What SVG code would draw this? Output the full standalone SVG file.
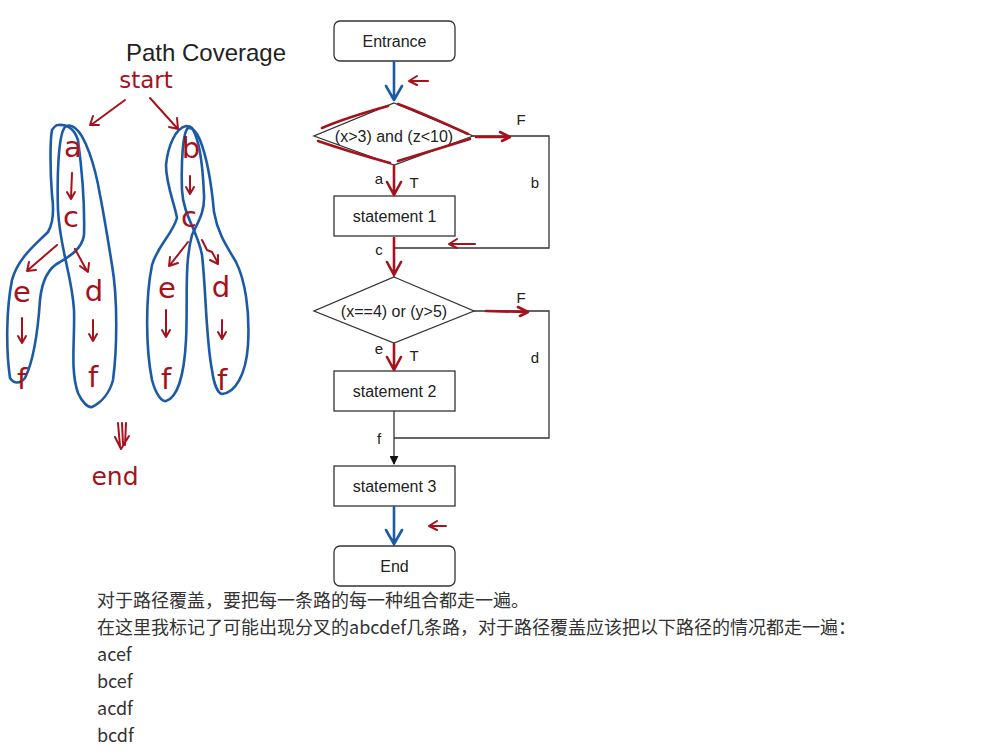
<svg xmlns="http://www.w3.org/2000/svg" width="994" height="756" viewBox="0 0 994 756">
<defs>
<style>
.box{fill:#fff;stroke:#333;stroke-width:1.3}
.lbl{font-family:"Liberation Sans",Arial,sans-serif;font-size:16px;fill:#222;text-anchor:middle}
.sm{font-family:"Liberation Sans",Arial,sans-serif;font-size:15px;fill:#222;text-anchor:middle}
.conn{fill:none;stroke:#333;stroke-width:1.3}
.red{fill:none;stroke:#a5121c;stroke-width:2.6;stroke-linecap:round;stroke-linejoin:round}
.redt{fill:none;stroke:#a5121c;stroke-width:2;stroke-linecap:round;stroke-linejoin:round}
.blue{fill:none;stroke:#1b5aa6;stroke-width:2.6;stroke-linecap:round;stroke-linejoin:round}
.hand{font-family:"DejaVu Sans","Liberation Sans",sans-serif;font-size:29px;fill:#a5121c;text-anchor:middle}
.zh{font-family:"Noto Sans CJK SC","Noto Sans",sans-serif;font-size:18px;fill:#333}
</style>
<marker id="blk" viewBox="0 0 10 10" refX="9" refY="5" markerWidth="9" markerHeight="9" markerUnits="userSpaceOnUse" orient="auto"><path d="M0,0 L10,5 L0,10 Z" fill="#111"/></marker>
</defs>
<rect width="994" height="756" fill="#fff"/>

<text x="206" y="61" font-family="Liberation Sans,Arial,sans-serif" font-size="24" fill="#222" text-anchor="middle">Path Coverage</text>

<g id="connectors">
<path class="conn" d="M394,61 V101"/>
<path class="conn" d="M394,165 V196"/>
<path class="conn" d="M473,136 H549 V248 H394"/>
<path class="conn" d="M394,237 V277"/>
<path class="conn" d="M394,343 V371"/>
<path class="conn" d="M474,311 H549 V438 H394"/>
<path class="conn" d="M394,411 V464" marker-end="url(#blk)"/>
<path class="conn" d="M394,506 V546"/>
<text class="sm" x="521" y="125">F</text>
<text class="sm" x="535" y="188">b</text>
<text class="sm" x="379" y="184">a</text>
<text class="sm" x="414" y="188">T</text>
<text class="sm" x="379" y="255">c</text>
<text class="sm" x="521" y="303">F</text>
<text class="sm" x="535" y="363">d</text>
<text class="sm" x="379" y="354">e</text>
<text class="sm" x="414" y="361">T</text>
<text class="sm" x="379" y="444">f</text>
</g>

<g id="entrance"><rect class="box" x="334" y="21" width="121" height="40" rx="6"/><text class="lbl" x="394.5" y="47">Entrance</text></g>
<g id="decision1"><path class="box" d="M394,103 L473,136 L394,165 L314,136 Z"/><text class="lbl" x="394" y="142">(x&gt;3) and (z&lt;10)</text></g>
<g id="statement1"><rect class="box" x="334" y="196" width="121" height="40"/><text class="lbl" x="394.5" y="222">statement 1</text></g>
<g id="decision2"><path class="box" d="M394,277 L474,311 L394,343 L314,311 Z"/><text class="lbl" x="394" y="317">(x==4) or (y&gt;5)</text></g>
<g id="statement2"><rect class="box" x="334" y="371" width="121" height="40"/><text class="lbl" x="394.5" y="397">statement 2</text></g>
<g id="statement3"><rect class="box" x="334" y="466" width="121" height="40"/><text class="lbl" x="394.5" y="492">statement 3</text></g>
<g id="end"><rect class="box" x="334" y="546" width="121" height="40" rx="6"/><text class="lbl" x="394.5" y="572">End</text></g>

<g id="annotations-flow">
<path class="blue" d="M394,62 V99 M386,86 L394,100 L402,86"/>
<path class="blue" d="M394,507 V543 M386,530 L394,544 L402,530"/>
<path class="redt" d="M428,81 H411 M417,76 L409,81 L417,85"/>
<path class="redt" d="M475,244 H450 M457,239 L449,244 L457,248"/>
<path class="redt" d="M446,526 H431 M437,521 L429,526 L437,530"/>
<path class="red" d="M322,128 Q345,118 388,106 M398,104 Q420,112 468,134 M318,141 Q350,152 390,163 M398,161 Q440,148 470,139"/>
<path class="red" d="M476,137 H509 M500,132 L510,137 L502,141"/>
<path class="red" d="M394,166 V194 M387,182 L394,195 L401,182"/>
<path class="red" d="M394,238 V275 M387,262 L394,275 L401,262"/>
<path class="red" d="M486,311 L527,312 M518,307 L528,312 L520,316"/>
<path class="red" d="M394,344 V369 M387,357 L394,370 L401,357"/>
</g>

<g id="annotations-hand">
<path class="blue" d="M58,125 C66,124 74,128 78,140 C82,170 85,200 84,235 C82,248 72,255 60,262 C48,268 42,280 40,300 C38,330 34,360 25,378 C20,384 14,384 10,378 C6,350 6,310 12,280 C18,258 35,245 48,232 C54,222 54,210 52,195 C50,170 50,140 52,130 C54,127 56,125 58,125 Z"/>
<path class="blue" d="M65,127 C58,135 57,180 58,210 C60,250 72,275 74,310 C75,340 70,370 78,393 C82,402 88,408 92,407 C102,402 110,392 113,380 C117,350 118,300 112,265 C108,240 104,215 100,195 C95,165 85,135 75,128 C71,125 67,125 65,127 Z"/>
<path class="blue" d="M186,126 C176,128 168,145 166,165 C166,185 175,205 177,218 C172,235 158,245 152,265 C145,300 146,350 152,380 C156,395 162,402 166,401 C176,398 184,380 186,340 C188,300 184,265 192,235 C198,222 205,212 204,195 C203,170 200,140 192,128 C190,126 188,126 186,126 Z"/>
<path class="blue" d="M188,128 C183,132 181,160 182,190 C183,215 198,232 202,255 C206,290 206,340 212,370 C214,385 218,393 222,394 C235,393 246,375 248,345 C250,310 245,280 236,262 C228,248 218,235 214,212 C212,190 208,160 200,140 C197,132 192,127 188,128 Z"/>

<text x="146" y="88" font-family="DejaVu Sans,sans-serif" font-size="23" fill="#a5121c" text-anchor="middle">start</text>
<path class="redt" d="M125,100 L91,125 M93,116 L90,125 L99,125"/>
<path class="redt" d="M150,98 L177,128 M177,118 L178,129 L169,127"/>

<text class="hand" x="73" y="157">a</text>
<path class="redt" d="M72,173 L71,198 M67,192 L71,199 L75,192"/>
<text class="hand" x="71" y="227">c</text>
<path class="redt" d="M57,245 L28,270 M29,262 L27,271 L36,270"/>
<path class="redt" d="M75,249 L87,271 M80,266 L88,272 L89,263"/>
<text class="hand" x="22" y="302">e</text>
<path class="redt" d="M22,318 L22,342 M18,336 L22,343 L26,336"/>
<text class="hand" x="22" y="389">f</text>
<text class="hand" x="94" y="301">d</text>
<path class="redt" d="M93,320 L93,340 M89,334 L93,341 L97,334"/>
<text class="hand" x="93" y="387">f</text>

<text class="hand" x="191" y="158">b</text>
<path class="redt" d="M190,176 L190,193 M186,187 L190,194 L194,187"/>
<text class="hand" x="189" y="227">c</text>
<path class="redt" d="M188,242 L170,265 M170,257 L169,266 L178,263"/>
<path class="redt" d="M202,240 L207,250 L212,252 L218,263 M210,260 L218,264 L218,255"/>
<text class="hand" x="167" y="298">e</text>
<path class="redt" d="M166,310 L166,336 M162,330 L166,337 L170,330"/>
<text class="hand" x="166" y="389">f</text>
<text class="hand" x="221" y="297">d</text>
<path class="redt" d="M222,320 L222,338 M218,332 L222,339 L226,332"/>
<text class="hand" x="222" y="390">f</text>

<path class="redt" d="M118,423 L120,446 M122,423 L123,444 M126,423 L125,445 M115,437 L121,449 L129,436"/>
<text x="115" y="485" font-family="DejaVu Sans,sans-serif" font-size="25" fill="#a5121c" text-anchor="middle">end</text>
</g>

<g id="explanation">
<text class="zh" x="97" y="607">对于路径覆盖，要把每一条路的每一种组合都走一遍。</text>
<text class="zh" x="97" y="634">在这里我标记了可能出现分叉的abcdef几条路，对于路径覆盖应该把以下路径的情况都走一遍：</text>
<text class="zh" x="97" y="661">acef</text>
<text class="zh" x="97" y="688">bcef</text>
<text class="zh" x="97" y="715">acdf</text>
<text class="zh" x="97" y="742">bcdf</text>
</g>
</svg>
